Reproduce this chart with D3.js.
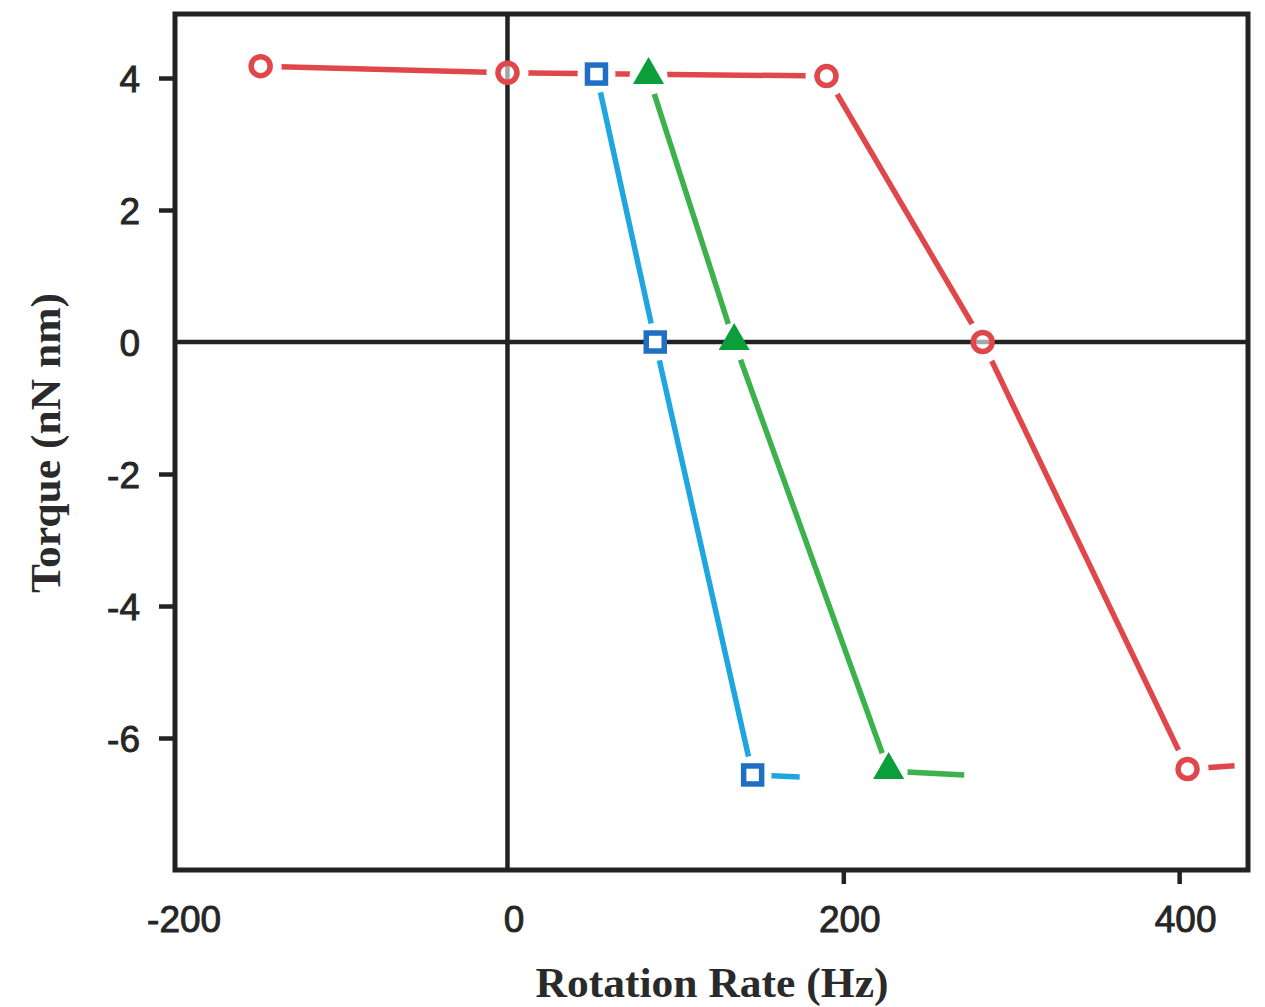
<!DOCTYPE html>
<html>
<head>
<meta charset="utf-8">
<script src="https://cdn.jsdelivr.net/npm/d3@7"></script>
<style>
  html, body { margin: 0; padding: 0; background: #fff; }
  svg { display: block; }
</style>
</head>
<body>
<svg id="chart" width="1265" height="1007"></svg>
<script>
// ---- data ----
const xTickValues = [-200, 0, 200, 400];
const yTickValues = [-6, -4, -2, 0, 2, 4];

// red circles (last point is the line tail, no marker)
const redRate   = [-147, 0, 190, 283, 405, 433];
const redTorque = [4.18, 4.08, 4.03, 0, -6.47, -6.42];
const redMarkers = 5;

// blue squares
const blueRate   = [53, 88, 146, 174];
const blueTorque = [4.06, 0, -6.56, -6.59];
const blueMarkers = 3;

// green triangles
const greenRate   = [84, 135, 227, 272];
const greenTorque = [4.03, 0, -6.5, -6.56];
const greenMarkers = 3;

const xLabel = "Rotation Rate (Hz)";
const yLabel = "Torque (nN nm)";

// ---- layout ----
const pL = 175, pR = 1248, pT = 14, pB = 870;
const x = d3.scaleLinear().domain([-198, 441]).range([pL, pR]);
const y = d3.scaleLinear().domain([-8, 4.97]).range([pB, pT]);

const svg = d3.select("#chart");

const series = [
  { rate: redRate, torque: redTorque, n: redMarkers, line: "#e0474b", mark: "#e0474b", shape: "circle" },
  { rate: blueRate, torque: blueTorque, n: blueMarkers, line: "#1ea6df", mark: "#1f6fc4", shape: "square" },
  { rate: greenRate, torque: greenTorque, n: greenMarkers, line: "#3bb24b", mark: "#0c9e3a", shape: "triangle" }
];
series.forEach(s => { s.pts = s.rate.map((r, i) => ({ r, t: s.torque[i], i })); });

const line = d3.line().x(d => x(d.r)).y(d => y(d.t));

// lines
const gLines = svg.append("g");
series.forEach(s => {
  gLines.append("path").datum(s.pts)
    .attr("d", line)
    .attr("fill", "none")
    .attr("stroke", s.line)
    .attr("stroke-width", 5.5)
    .attr("stroke-linecap", "butt");
});

// white knockouts creating gaps around markers
const gKnock = svg.append("g");
series.forEach(s => {
  gKnock.selectAll(null).data(s.pts.slice(0, s.n)).enter().append("circle")
    .attr("cx", d => x(d.r)).attr("cy", d => y(d.t))
    .attr("r", s.shape === "circle" ? 21 : 19)
    .attr("fill", "#fff");
});

// zero lines
svg.append("line").attr("x1", x(0)).attr("x2", x(0)).attr("y1", pT).attr("y2", pB)
  .attr("stroke", "#222").attr("stroke-width", 4.5);
svg.append("line").attr("x1", pL).attr("x2", pR).attr("y1", y(0)).attr("y2", y(0))
  .attr("stroke", "#222").attr("stroke-width", 4.5);

// markers
const gMarks = svg.append("g");
series.forEach(s => {
  const pts = s.pts.slice(0, s.n);
  if (s.shape === "circle") {
    gMarks.selectAll(null).data(pts).enter().append("circle")
      .attr("cx", d => x(d.r)).attr("cy", d => y(d.t)).attr("r", 9.5)
      .attr("fill", "#fff").attr("fill-opacity", 0.6)
      .attr("stroke", s.mark).attr("stroke-width", 5.5);
  } else if (s.shape === "square") {
    gMarks.selectAll(null).data(pts).enter().append("rect")
      .attr("x", d => x(d.r) - 9).attr("y", d => y(d.t) - 9)
      .attr("width", 18).attr("height", 18)
      .attr("fill", "#fff").attr("stroke", s.mark).attr("stroke-width", 5.5);
  } else {
    const tri = d3.symbol().type(d3.symbolTriangle).size(330);
    gMarks.selectAll(null).data(pts).enter().append("path")
      .attr("d", tri)
      .attr("transform", d => `translate(${x(d.r)},${y(d.t) - 1})`)
      .attr("fill", s.mark).attr("stroke", s.mark).attr("stroke-width", 2);
  }
});

// frame
svg.append("rect").attr("x", pL).attr("y", pT)
  .attr("width", pR - pL).attr("height", pB - pT)
  .attr("fill", "none").attr("stroke", "#222").attr("stroke-width", 5);

// axes (ticks only at non-zero values, labels at all)
const xAxis = d3.axisBottom(x).tickValues(xTickValues).tickSize(0).tickPadding(0).tickFormat(d3.format("d"));
const gx = svg.append("g").attr("transform", `translate(0,${pB})`).call(xAxis);
gx.select(".domain").remove();
gx.selectAll(".tick text")
  .attr("y", 62).attr("dy", null)
  .attr("dx", d => d === -200 ? 12 : 6)
  .attr("font-family", "'Liberation Sans', Arial, sans-serif")
  .attr("font-size", 37).attr("fill", "#262626")
  .attr("stroke", "#262626").attr("stroke-width", 0.9)
  .text(d => d);
gx.selectAll(".tick").filter(d => d !== 0 && d >= -198).append("line")
  .attr("y1", 0).attr("y2", 14).attr("stroke", "#222").attr("stroke-width", 4.5);

const yAxis = d3.axisLeft(y).tickValues(yTickValues).tickSize(0).tickPadding(0).tickFormat(d3.format("d"));
const gy = svg.append("g").attr("transform", `translate(${pL},0)`).call(yAxis);
gy.select(".domain").remove();
gy.selectAll(".tick text")
  .attr("x", -35).attr("dy", "0.36em")
  .attr("font-family", "'Liberation Sans', Arial, sans-serif")
  .attr("font-size", 37).attr("fill", "#262626")
  .attr("stroke", "#262626").attr("stroke-width", 0.9)
  .attr("text-anchor", "end")
  .text(d => d);
gy.selectAll(".tick").filter(d => d !== 0).append("line")
  .attr("x1", 0).attr("x2", -16).attr("stroke", "#222").attr("stroke-width", 4.5);

// axis titles
svg.append("text")
  .attr("x", 712).attr("y", 997)
  .attr("text-anchor", "middle")
  .attr("font-family", "'Liberation Serif', 'Times New Roman', serif")
  .attr("font-weight", "bold").attr("font-size", 42).attr("fill", "#2a2a2a")
  .attr("textLength", 353).attr("lengthAdjust", "spacingAndGlyphs")
  .text(xLabel);

svg.append("text")
  .attr("transform", "translate(60,443) rotate(-90)")
  .attr("text-anchor", "middle")
  .attr("font-family", "'Liberation Serif', 'Times New Roman', serif")
  .attr("font-weight", "bold").attr("font-size", 42).attr("fill", "#2a2a2a")
  .attr("textLength", 300).attr("lengthAdjust", "spacingAndGlyphs")
  .text(yLabel);
</script>
</body>
</html>
